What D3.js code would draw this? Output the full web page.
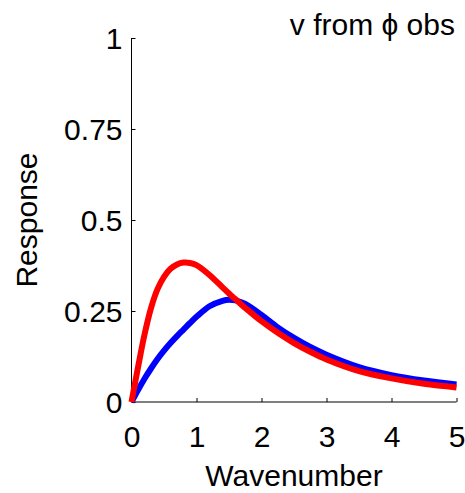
<!DOCTYPE html>
<html><head><meta charset="utf-8">
<script src="https://cdn.jsdelivr.net/npm/d3@7"></script>
<style>
html,body{margin:0;padding:0;background:#fff;}
svg text{font-family:"Liberation Sans",Arial,Helvetica,sans-serif;fill:#000;}
</style></head>
<body><svg id="c" width="465" height="493"></svg>
<script>
const wavenumber = [0, 0.1, 0.2, 0.3, 0.4, 0.5, 0.6, 0.7, 0.8, 0.9, 1.0, 1.2, 1.4, 1.5, 1.6, 1.7, 1.8, 2.0, 2.25, 2.5, 2.75, 3.0, 3.5, 4.0, 4.5, 5.0];
const blueResponse = [0, 0.033, 0.064, 0.092, 0.118, 0.141, 0.162, 0.181, 0.199, 0.217, 0.234, 0.263, 0.278, 0.281, 0.279, 0.273, 0.264, 0.239, 0.205, 0.176, 0.151, 0.13, 0.096, 0.074, 0.059, 0.048];
const redResponse = [0, 0.095, 0.185, 0.258, 0.31, 0.344, 0.366, 0.378, 0.383, 0.382, 0.376, 0.349, 0.315, 0.298, 0.282, 0.266, 0.251, 0.222, 0.19, 0.162, 0.138, 0.117, 0.085, 0.065, 0.05, 0.04];
const xTicks = [0, 1, 2, 3, 4, 5];
const yTicks = [0, 0.25, 0.5, 0.75, 1];
const yTickLabels = ["0", "0.25", "0.5", "0.75", "1"];
const titleText = "v from \u03D5 obs";
const xLabel = "Wavenumber";
const yLabel = "Response";

const svg = d3.select("#c");
const x = d3.scaleLinear().domain([0, 5]).range([131.5, 456.5]);
const y = d3.scaleLinear().domain([0, 1]).range([402, 38]);
const fs = 30;

// axes
const xAxis = d3.axisBottom(x).tickValues(xTicks).tickSize(-4).tickPadding(12).tickFormat(d3.format("d"));
const gx = svg.append("g").attr("transform", `translate(0,${y(0)})`).call(xAxis);
gx.attr("font-size", null).attr("font-family", null);
gx.select(".domain").attr("stroke", "#000").attr("d", `M${x(0)},0H${x(5)}`);
gx.selectAll(".tick line").attr("stroke", "#000");
gx.selectAll(".tick text").attr("font-size", fs).attr("dy", null).attr("y", 45);

const yAxis = d3.axisLeft(y).tickValues(yTicks).tickSize(-4).tickPadding(10).tickFormat((d, i) => yTickLabels[i]);
const gy = svg.append("g").attr("transform", `translate(${x(0)},0)`).call(yAxis);
gy.attr("font-size", null).attr("font-family", null);
gy.select(".domain").attr("stroke", "#000").attr("d", `M0,${y(1)}V${y(0)}`);
gy.selectAll(".tick line").attr("stroke", "#000");
gy.selectAll(".tick text").attr("font-size", fs).attr("x", -9).attr("dy", "0.36em");

// lines
const line = vals => d3.line().x((d, i) => x(wavenumber[i])).y(d => y(d)).curve(d3.curveCatmullRom.alpha(0.5))(vals);
svg.append("path").attr("d", line(blueResponse)).attr("fill", "none").attr("stroke", "#0000ff").attr("stroke-width", 6).attr("stroke-linejoin", "round");
svg.append("path").attr("d", line(redResponse)).attr("fill", "none").attr("stroke", "#ff0000").attr("stroke-width", 6).attr("stroke-linejoin", "round");

// labels
svg.append("text").attr("x", (x(0) + x(5)) / 2).attr("y", 486).attr("text-anchor", "middle").attr("font-size", fs).text(xLabel);
svg.append("text").attr("transform", `translate(37,220) rotate(-90)`).attr("text-anchor", "middle").attr("font-size", fs).text(yLabel);
svg.append("text").attr("x", 455).attr("y", 35).attr("text-anchor", "end").attr("font-size", fs).text(titleText);
</script></body></html>
